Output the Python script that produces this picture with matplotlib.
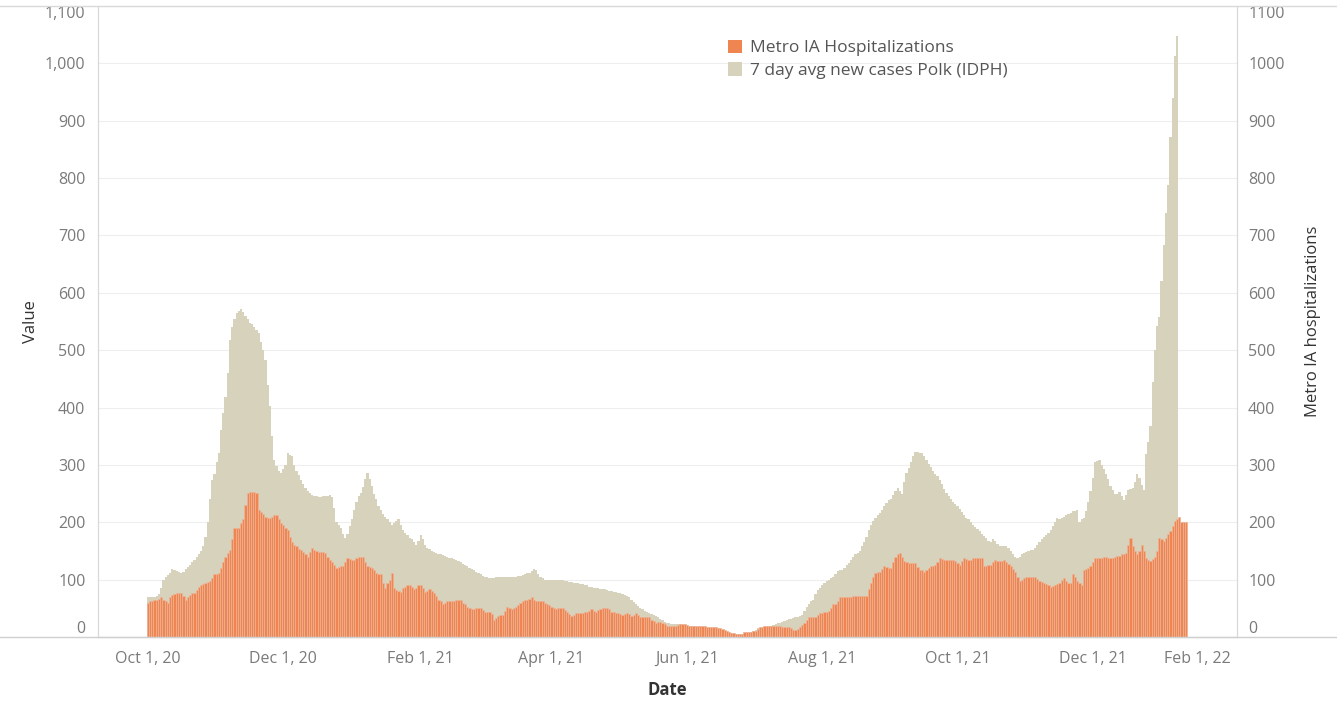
import matplotlib.pyplot as plt
import pandas as pd
from matplotlib.lines import Line2D

plt.rcParams['font.family'] = ['Open Sans', 'DejaVu Sans']

# 7 day avg new cases Polk (IDPH), daily from Oct 1, 2020
cases = [
    70, 70, 69, 70, 72, 75, 85, 100, 104, 108,
    112, 118, 117, 115, 113, 112, 114, 118, 122, 126,
    130, 135, 140, 145, 150, 158, 175, 200, 240, 274,
    285, 305, 321, 360, 390, 419, 460, 518, 540, 555,
    565, 568, 572, 566, 560, 555, 548, 545, 540, 535,
    530, 515, 500, 483, 440, 402, 350, 309, 298, 290,
    286, 292, 300, 321, 318, 315, 300, 290, 282, 274,
    266, 260, 255, 251, 248, 246, 245, 244, 244, 245,
    245, 246, 248, 244, 225, 200, 195, 190, 180, 173,
    180, 193, 205, 222, 235, 245, 251, 262, 275, 286,
    275, 263, 250, 240, 228, 222, 215, 210, 205, 200,
    196, 198, 203, 205, 195, 187, 182, 178, 173, 170,
    166, 161, 168, 178, 170, 160, 156, 153, 150, 148,
    146, 145, 144, 143, 142, 140, 138, 137, 136, 134,
    132, 130, 128, 126, 124, 121, 119, 116, 113, 111,
    109, 107, 105, 104, 103, 103, 103, 104, 104, 104,
    104, 104, 104, 104, 104, 104, 105, 106, 107, 108,
    110, 112, 112, 115, 118, 116, 110, 105, 102, 100,
    100, 100, 100, 100, 100, 100, 100, 99, 98, 97,
    96, 96, 95, 95, 94, 93, 92, 91, 90, 88,
    87, 86, 85, 85, 84, 83, 83, 82, 81, 80,
    79, 78, 77, 77, 75, 73, 71, 69, 65, 61,
    57, 54, 51, 48, 46, 44, 42, 40, 38, 36,
    34, 32, 29, 27, 25, 24, 23, 23, 22, 22,
    22, 21, 21, 20, 19, 19, 19, 18, 18, 18,
    17, 15, 14, 13, 13, 13, 12, 12, 12, 11,
    10, 9, 8, 7, 6, 6, 5, 5, 5, 5,
    6, 6, 8, 10, 12, 15, 15, 16, 17, 18,
    18, 19, 21, 23, 24, 25, 26, 28, 30, 31,
    32, 33, 34, 35, 36, 39, 45, 52, 58, 62,
    65, 75, 82, 86, 90, 95, 98, 100, 102, 105,
    110, 115, 117, 117, 120, 125, 129, 135, 140, 144,
    147, 150, 158, 165, 175, 187, 195, 202, 208, 212,
    216, 222, 228, 233, 238, 240, 248, 255, 260, 255,
    250, 270, 286, 295, 305, 315, 323, 322, 321, 321,
    315, 309, 302, 296, 290, 285, 280, 273, 266, 258,
    251, 246, 241, 236, 232, 228, 223, 218, 213, 208,
    205, 200, 196, 192, 188, 184, 180, 176, 172, 168,
    166, 170, 168, 162, 158, 158, 158, 158, 155, 150,
    144, 140, 138, 140, 144, 146, 148, 150, 151, 152,
    155, 160, 165, 170, 174, 178, 182, 187, 194, 200,
    208, 205, 207, 210, 213, 215, 217, 219, 220, 221,
    200, 205, 207, 220, 235, 255, 277, 305, 306, 308,
    300, 292, 284, 275, 263, 256, 249, 250, 252, 245,
    238, 248, 256, 258, 259, 270, 284, 277, 265, 256,
    319, 340, 368, 445, 500, 543, 557, 620, 683, 740,
    788, 872, 940, 1013, 1048,
]

# Metro IA hospitalizations, daily from Oct 1, 2020
hosp = [
    60, 62, 63, 64, 65, 66, 69, 64, 62, 60,
    70, 74, 75, 77, 76, 77, 72, 65, 70, 74,
    76, 77, 82, 88, 90, 92, 95, 96, 97, 102,
    109, 110, 112, 120, 130, 140, 146, 152, 170, 190,
    190, 190, 198, 205, 230, 251, 252, 253, 252, 251,
    222, 218, 214, 210, 208, 207, 210, 212, 213, 205,
    199, 195, 190, 187, 175, 165, 160, 158, 153, 151,
    149, 145, 140, 148, 156, 152, 150, 149, 149, 148,
    147, 140, 135, 130, 125, 121, 122, 123, 123, 130,
    138, 136, 135, 135, 137, 139, 140, 140, 130, 123,
    122, 121, 117, 112, 110, 109, 95, 86, 95, 100,
    112, 86, 82, 80, 79, 85, 88, 90, 91, 87,
    83, 86, 90, 91, 85, 79, 81, 83, 80, 77,
    72, 65, 63, 57, 60, 62, 62, 62, 62, 64,
    64, 65, 60, 57, 53, 51, 49, 48, 50, 51,
    51, 47, 44, 44, 44, 40, 30, 33, 36, 38,
    39, 46, 53, 50, 48, 51, 53, 56, 59, 62,
    64, 65, 67, 69, 65, 62, 62, 62, 62, 60,
    57, 55, 53, 51, 48, 50, 51, 51, 47, 44,
    40, 36, 39, 42, 42, 42, 42, 43, 44, 46,
    48, 46, 44, 47, 49, 51, 51, 51, 48, 44,
    43, 42, 41, 40, 39, 40, 42, 40, 36, 39,
    42, 38, 34, 34, 34, 35, 35, 30, 28, 25,
    26, 27, 25, 22, 20, 19, 20, 20, 20, 21,
    22, 22, 22, 21, 19, 19, 19, 19, 20, 20,
    20, 19, 18, 17, 17, 17, 17, 16, 15, 14,
    12, 10, 8, 7, 7, 6, 6, 5, 6, 8,
    8, 8, 9, 10, 10, 14, 17, 18, 19, 19,
    19, 19, 19, 19, 19, 19, 18, 17, 17, 17,
    15, 13, 12, 14, 17, 21, 25, 30, 35, 35,
    34, 34, 38, 41, 42, 43, 44, 45, 50, 57,
    57, 63, 69, 69, 69, 69, 69, 70, 71, 71,
    71, 71, 71, 71, 71, 83, 95, 105, 112, 113,
    114, 118, 123, 122, 121, 121, 130, 140, 145, 147,
    140, 132, 130, 129, 129, 129, 129, 122, 117, 116,
    114, 117, 121, 123, 124, 126, 130, 138, 136, 135,
    135, 135, 135, 134, 132, 129, 126, 132, 138, 136,
    135, 135, 137, 138, 138, 138, 138, 123, 124, 125,
    126, 130, 135, 133, 132, 133, 135, 130, 128, 123,
    118, 114, 105, 97, 100, 103, 104, 104, 105, 105,
    105, 101, 97, 96, 95, 93, 91, 88, 89, 91,
    93, 95, 100, 102, 98, 95, 95, 109, 104, 98,
    95, 91, 116, 118, 120, 123, 130, 137, 137, 137,
    138, 140, 139, 137, 137, 138, 140, 141, 142, 144,
    145, 147, 160, 172, 158, 150, 144, 150, 161, 150,
    137, 135, 133, 136, 140, 150, 172, 170, 168, 172,
    179, 185, 193, 203, 206, 210, 200, 200, 200,
]

tick_dates = ['2020-10-01', '2020-12-01', '2021-02-01', '2021-04-01', '2021-06-01',
              '2021-08-01', '2021-10-01', '2021-12-01', '2022-02-01']
tick_labels = ['Oct 1, 20', 'Dec 1, 20', 'Feb 1, 21', 'Apr 1, 21', 'Jun 1, 21',
               'Aug 1, 21', 'Oct 1, 21', 'Dec 1, 21', 'Feb 1, 22']
y_ticks = list(range(0, 1101, 100))

BEIGE = '#D7D2BC'
ORANGE = '#EF8550'
ORANGE_EDGE = '#EDB498'
TICK_GREY = '#7A7A7A'

case_dates = pd.date_range('2020-10-01', periods=len(cases), freq='D')
hosp_dates = pd.date_range('2020-10-01', periods=len(hosp), freq='D')

fig = plt.figure(figsize=(13.37, 7.08), dpi=100)
ax = fig.add_axes([98 / 1337, 71 / 708, 1139 / 1337, 631 / 708])
ax2 = ax.twinx()

ax.bar(case_dates, cases, width=1.0, color=BEIGE, linewidth=0, zorder=2,
       label='7 day avg new cases Polk (IDPH)')
ax2.bar(hosp_dates, hosp, width=1.0, color=ORANGE, edgecolor=ORANGE_EDGE, linewidth=0.5,
        label='Metro IA Hospitalizations')

for a in (ax, ax2):
    a.set_ylim(0, 1100)
    a.set_xlim(pd.Timestamp('2020-09-08 12:00'), pd.Timestamp('2022-02-04'))
    for s in a.spines.values():
        s.set_color('#D9D9D9')
    a.spines['top'].set_visible(False)

ax.set_yticks(y_ticks)
ax.set_yticklabels(['{:,}'.format(v) for v in y_ticks])
ax2.set_yticks(y_ticks)
ax2.set_yticklabels([str(v) for v in y_ticks])
ax.grid(axis='y', color='#EEEEEE', linewidth=0.8, zorder=0)
ax.set_axisbelow(True)

ax.tick_params(axis='y', length=0, pad=9, labelsize=11.5, labelcolor=TICK_GREY)
ax2.tick_params(axis='y', length=0, pad=8, labelsize=11.5, labelcolor=TICK_GREY)
ax.tick_params(axis='x', length=0, pad=10, labelsize=11.5, labelcolor=TICK_GREY)

for axis_ in (ax, ax2):
    labs = axis_.get_yticklabels()
    labs[0].set_va('bottom')
    labs[-1].set_va('top')

ax.set_xticks(pd.to_datetime(tick_dates))
ax.set_xticklabels(tick_labels)
ax.get_xticklabels()[-1].set_ha('right')

ax.set_ylabel('Value', fontsize=12, color='#333333', labelpad=4)
ax2.set_ylabel('Metro IA hospitalizations', fontsize=12, color='#333333', labelpad=15)
ax.set_xlabel('Date', fontsize=12, color='#333333', fontweight='bold', labelpad=10)

# frame lines running across the whole figure like the original
fig.add_artist(Line2D([0, 1], [1 - 6 / 708, 1 - 6 / 708], color='#D9D9D9', linewidth=1))
fig.add_artist(Line2D([0, 1], [71 / 708, 71 / 708], color='#CFCFCF', linewidth=1))

h1, l1 = ax2.get_legend_handles_labels()
h2, l2 = ax.get_legend_handles_labels()
leg = fig.legend(h1 + h2, l1 + l2, loc='upper left', bbox_to_anchor=(712 / 1337, 1 - 24 / 708),
                 frameon=False, fontsize=12.5, handlelength=0.8, handleheight=0.8,
                 handletextpad=0.5, labelspacing=0.35, labelcolor='#555555')
for h in leg.legend_handles:
    h.set_edgecolor('none')

fig.savefig('out.png', dpi=100, facecolor='white')
